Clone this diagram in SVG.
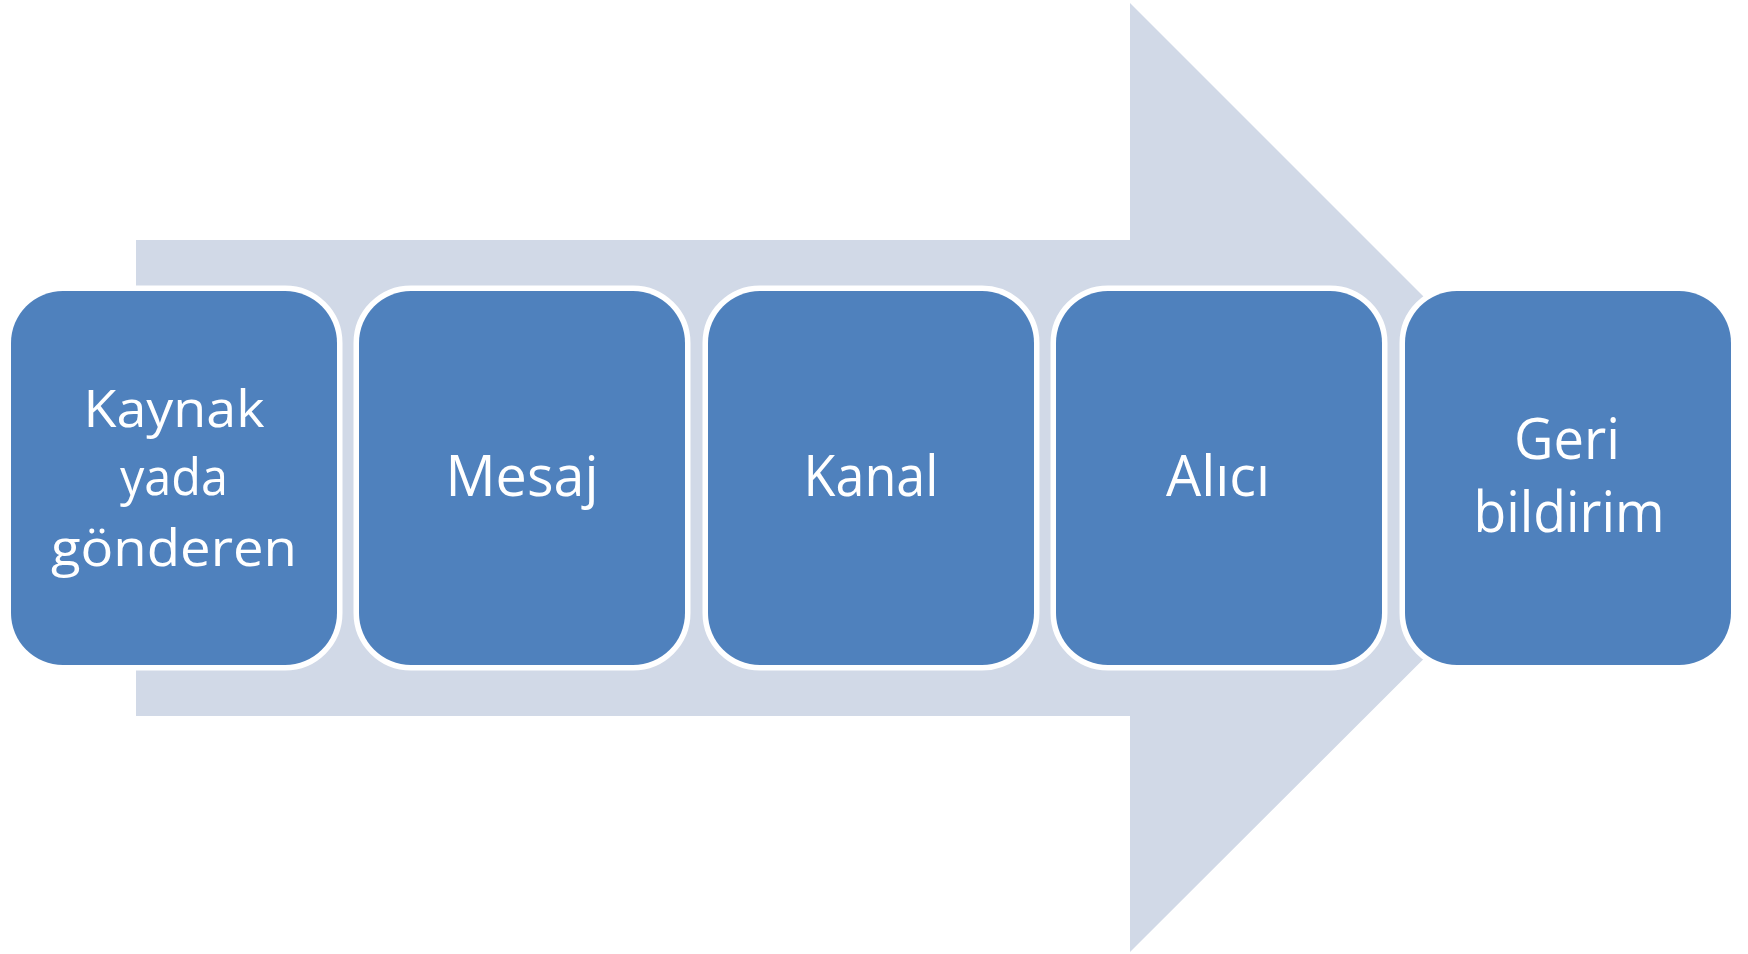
<svg xmlns="http://www.w3.org/2000/svg" width="1748" height="954" viewBox="0 0 1748 954">
<style>
.box{fill:#4F81BD;stroke:#FFFFFF;stroke-width:11;paint-order:stroke}
.lbl{font-family:"Open Sans","Liberation Sans",sans-serif;font-size:56px;fill:#FFFFFF;text-anchor:middle}
.sm{font-size:52px}
</style>
<rect width="1748" height="954" fill="#FFFFFF"/>
<g id="arrow">
<polygon points="136,240 1130,240 1130,3 1605,478 1130,952 1130,716 136,716" fill="#D1D9E7"/>
</g>
<g id="connectors"></g>
<g id="n1">
<rect class="box" x="11" y="291" width="326" height="374" rx="52" ry="52"/>
<text class="lbl sm" x="174" y="427" textLength="181" lengthAdjust="spacingAndGlyphs">Kaynak</text>
<text class="lbl sm" x="174" y="495" textLength="108" lengthAdjust="spacingAndGlyphs">yada</text>
<text class="lbl sm" x="174" y="566" textLength="246" lengthAdjust="spacingAndGlyphs">gönderen</text>
</g>
<g id="n2">
<rect class="box" x="359" y="291" width="326" height="374" rx="52" ry="52"/>
<text class="lbl" x="522" y="496" textLength="153" lengthAdjust="spacingAndGlyphs">Mesaj</text>
</g>
<g id="n3">
<rect class="box" x="708" y="291" width="326" height="374" rx="52" ry="52"/>
<text class="lbl" x="871" y="496" textLength="135" lengthAdjust="spacingAndGlyphs">Kanal</text>
</g>
<g id="n4">
<rect class="box" x="1056" y="291" width="326" height="374" rx="52" ry="52"/>
<text class="lbl" x="1218" y="496" textLength="104" lengthAdjust="spacingAndGlyphs">Alıcı</text>
</g>
<g id="n5">
<rect class="box" x="1405" y="291" width="326" height="374" rx="52" ry="52"/>
<text class="lbl" x="1567" y="459" textLength="106" lengthAdjust="spacingAndGlyphs">Geri</text>
<text class="lbl" x="1569" y="532" textLength="191" lengthAdjust="spacingAndGlyphs">bildirim</text>
</g>
</svg>
